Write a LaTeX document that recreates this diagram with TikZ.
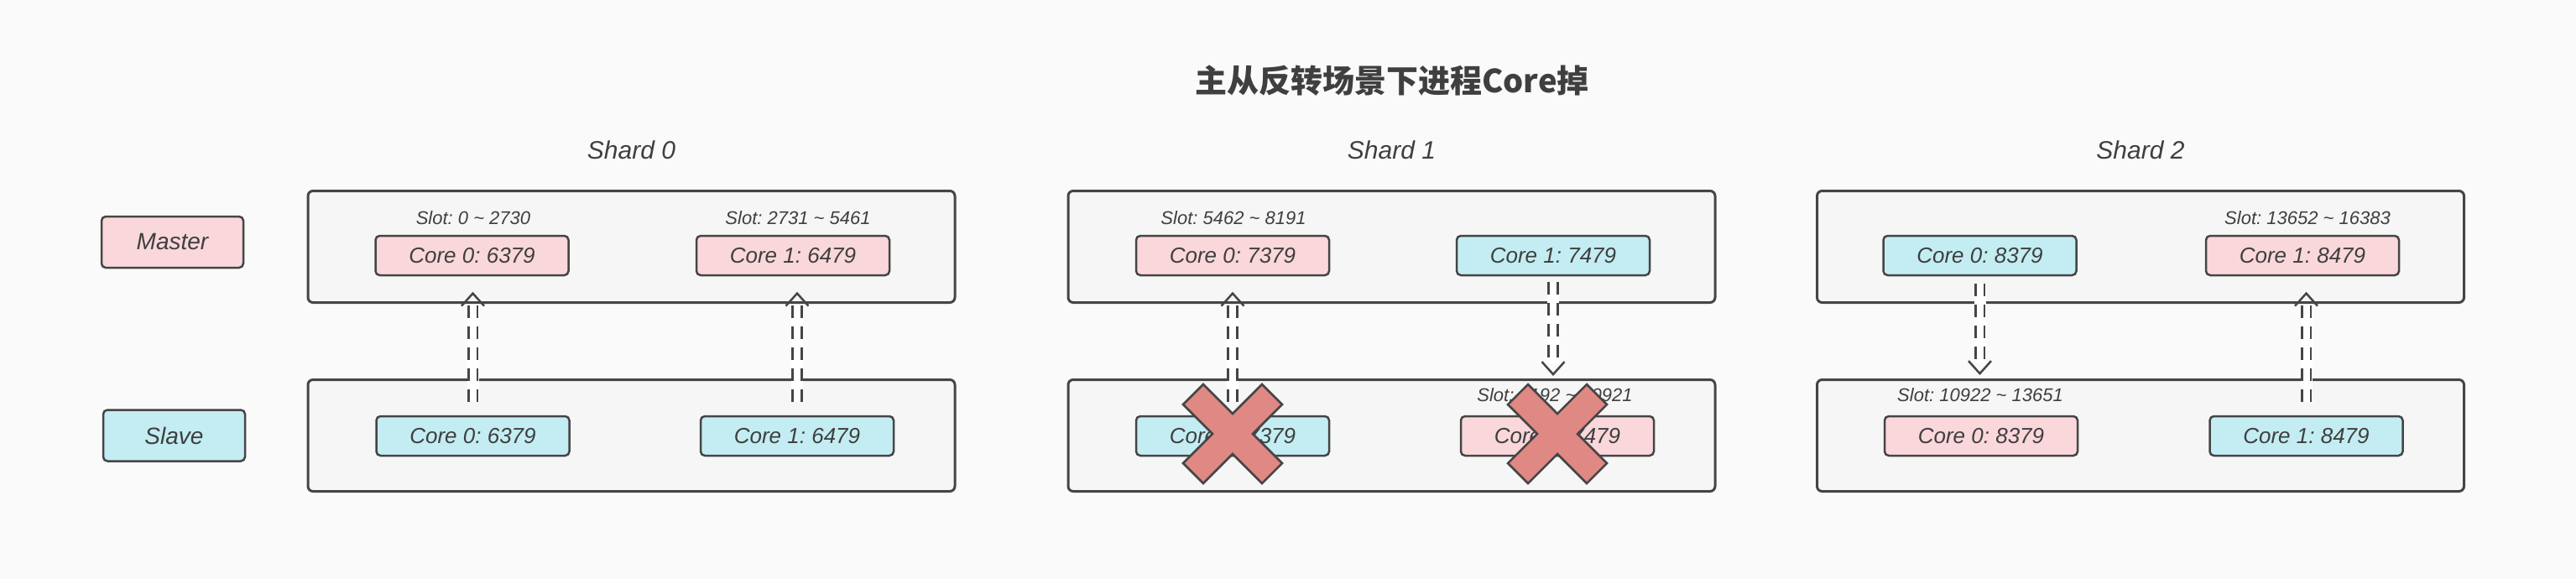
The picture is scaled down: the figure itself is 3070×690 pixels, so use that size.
\documentclass[tikz,border=0pt]{standalone}
\usepackage{fontspec}
\setmainfont{Liberation Sans}
\newfontfamily\cjk{Noto Sans CJK SC}
\usetikzlibrary{arrows.meta, decorations.markings, positioning}
\frenchspacing
\definecolor{bgGrey}{HTML}{FAFAFA}
\definecolor{boxGrey}{HTML}{F6F6F6}
\definecolor{lineGrey}{HTML}{454545}
\definecolor{txtGrey}{HTML}{3F3F3F}
\definecolor{coPink}{HTML}{FAD7DB}
\definecolor{coBlue}{HTML}{C3EDF2}
\definecolor{crossRed}{HTML}{E08884}
\tikzset{
  % one unit = one pixel of the 3070x690 canvas, y runs downwards
  every picture/.append style = {x=0.5pt, y=-0.5pt},
  shardbox/.style  = {draw=lineGrey, fill=boxGrey, line width=1.5pt, rounded corners=3pt,
                      minimum width=385.5pt, minimum height=66.5pt, inner sep=0},
  core/.style      = {draw=lineGrey, line width=1.25pt, rounded corners=2.5pt,
                      minimum width=115pt, minimum height=23.5pt, inner sep=0,
                      font=\fontsize{13}{15}\selectfont\itshape, text=txtGrey},
  pinkcore/.style  = {core, fill=coPink},
  bluecore/.style  = {core, fill=coBlue},
  role/.style      = {core, minimum width=84.5pt, minimum height=30.5pt,
                      font=\fontsize{14}{16}\selectfont\itshape},
  slot/.style      = {inner sep=0, font=\fontsize{11}{13}\selectfont\itshape, text=txtGrey},
  shardlbl/.style  = {inner sep=0, font=\fontsize{15}{17}\selectfont\itshape, text=txtGrey},
  titlelbl/.style  = {inner sep=0, font=\fontsize{19}{22}\selectfont\cjk\bfseries, text=txtGrey},
  flip/.style      = {draw=white, line width=7pt, shorten >=7.5pt,
                      postaction={draw=lineGrey, line width=1.4pt, double=white,
                                  double distance=4pt, dash pattern=on 7.5pt off 5pt},
                      postaction={decorate, decoration={markings, mark=at position 1 with
                        {\arrow[lineGrey]{Straight Barb[length=7.5pt, width=13.5pt, line width=1.25pt]}}}}},
  crossfill/.style = {fill=crossRed, draw=lineGrey, line width=1.25pt, line join=miter},
}
\begin{document}
\begin{tikzpicture}
  \fill[bgGrey] (0,0) rectangle (3070,690);
  \useasboundingbox (0,0) rectangle (3070,690);
  \node[titlelbl] (title) at (1659,96) {主从反转场景下进程Core掉};
  % --- roles ---------------------------------------------------------------
  \node[role, fill=coPink] (master) at (205.5,288.5) {Master};
  \node[role, fill=coBlue] (slave)  at (207.5,519)   {Slave};
  % --- shard containers ----------------------------------------------------
  \node[shardbox] (c0m) at (752.5,294)  {};
  \node[shardbox] (c0s) at (752.5,519)  {};
  \node[shardbox] (c1m) at (1658.5,294) {};
  \node[shardbox] (c1s) at (1658.5,519) {};
  \node[shardbox] (c2m) at (2551,294)   {};
  \node[shardbox] (c2s) at (2551,519)   {};
  \node[shardlbl, above=18pt of c0m] (sh0) {Shard 0};
  \node[shardlbl, above=18pt of c1m] (sh1) {Shard 1};
  \node[shardlbl, above=18pt of c2m] (sh2) {Shard 2};
  % --- shard 0 -------------------------------------------------------------
  \node[pinkcore] (m00) at (562.5,304.5) {Core 0: 6379};
  \node[pinkcore] (m01) at (945,304.5)   {Core 1: 6479};
  \node[bluecore] (s00) at (563.5,519.5) {Core 0: 6379};
  \node[bluecore] (s01) at (950,519.5)   {Core 1: 6479};
  \node[slot] (sl00) at (564,260) {Slot: 0 \textasciitilde{} 2730};
  \node[slot] (sl01) at (951,260) {Slot: 2731 \textasciitilde{} 5461};
  % --- shard 1 -------------------------------------------------------------
  \node[pinkcore] (m10) at (1469,304.5) {Core 0: 7379};
  \node[bluecore] (m11) at (1851,304.5) {Core 1: 7479};
  \node[bluecore] (s10) at (1469,519.5) {Core 0: 7379};
  \node[pinkcore] (s11) at (1856,519.5) {Core 1: 7479};
  \node[slot] (sl10) at (1470,260) {Slot: 5462 \textasciitilde{} 8191};
  \node[slot] (sl11) at (1853,471) {Slot: 8192 \textasciitilde{} 10921};
  % --- shard 2 -------------------------------------------------------------
  \node[bluecore] (m20) at (2359.5,304.5) {Core 0: 8379};
  \node[pinkcore] (m21) at (2744,304.5)   {Core 1: 8479};
  \node[pinkcore] (s20) at (2361,519.5)   {Core 0: 8379};
  \node[bluecore] (s21) at (2748.5,519.5) {Core 1: 8479};
  \node[slot] (sl20) at (2360,471) {Slot: 10922 \textasciitilde{} 13651};
  \node[slot] (sl21) at (2750,260) {Slot: 13652 \textasciitilde{} 16383};
  % --- replication links -----------------------------------------------------
  \draw[flip] ([yshift=8pt]s00.north) -- ([yshift=-9.25pt]s00.north |- m00.south);
  \draw[flip] ([yshift=8pt]s01.north) -- ([yshift=-9.25pt]s01.north |- m01.south);
  \draw[flip] ([yshift=8pt]s10.north) -- ([yshift=-9.25pt]s10.north |- m10.south);
  \draw[flip] ([yshift=-3.5pt]m11.south) -- ([yshift=1.5pt]m11.south |- c1s.north);
  \draw[flip] ([yshift=-4.5pt]m20.south) -- ([yshift=2pt]m20.south |- c2s.north);
  \draw[flip] ([yshift=8pt]s21.north) -- ([yshift=-9.25pt]s21.north |- m21.south);
  % --- crashed cores ---------------------------------------------------------
  \foreach \cx in {1469,1856}
    \filldraw[crossfill, shift={(\cx,517)}] (-35,-59) -- (0,-24) -- (35,-59) -- (59,-35)
      -- (24,0) -- (59,35) -- (35,59) -- (0,24) -- (-35,59) -- (-59,35) -- (-24,0)
      -- (-59,-35) -- cycle;
\end{tikzpicture}
\end{document}
